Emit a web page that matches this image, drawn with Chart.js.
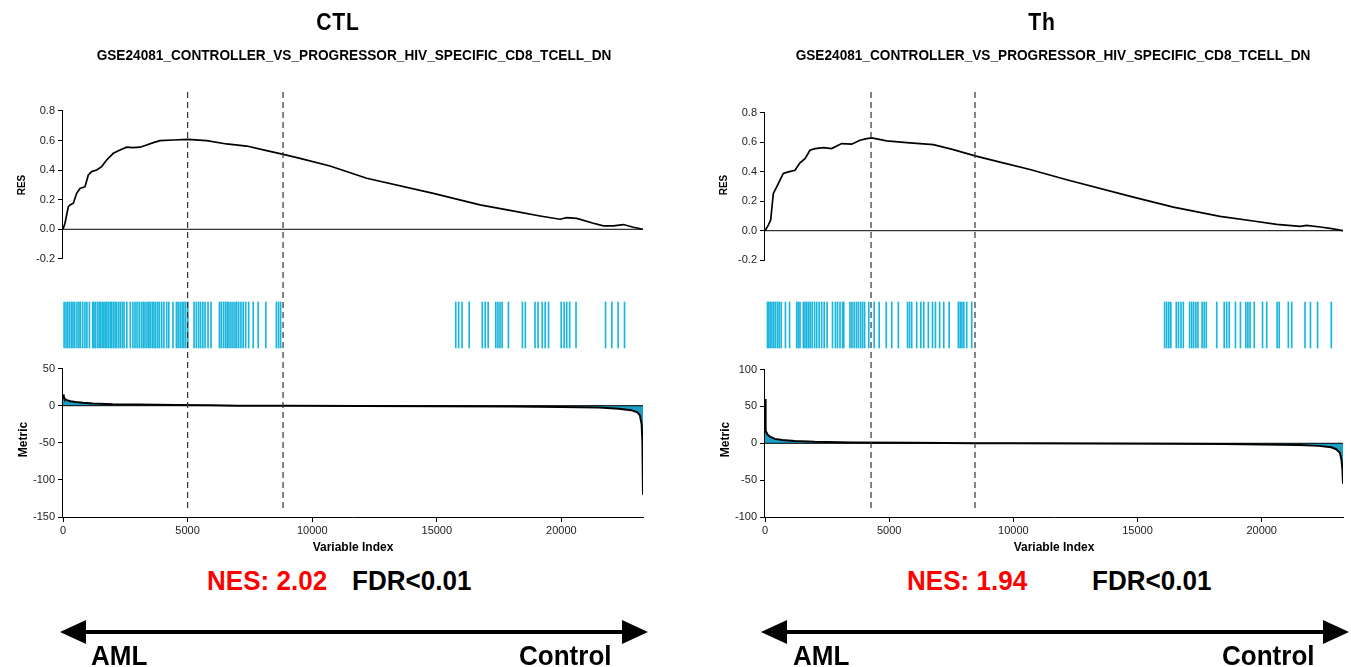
<html>
  <head>
    <script src="https://cdn.jsdelivr.net/npm/chart.js@4/dist/chart.umd.min.js"></script>
    <style>
      html,
      body {
        margin: 0;
        width: 1351px;
        height: 667px;
        background: #fff;
        overflow: hidden;
        font-family: "Liberation Sans", Arial, sans-serif;
      }
      canvas {
        position: absolute;
        top: 0;
      }
      .txt {
        position: absolute;
        white-space: nowrap;
        font-family: "Liberation Sans", Arial, sans-serif;
        font-weight: bold;
        color: #000;
      }
      .title {
        font-size: 24px;
        line-height: 28px;
        text-align: center;
        width: 200px;
        top: 8px;
        letter-spacing: 1px;
        transform: scaleX(0.88);
      }
      .sub {
        font-size: 15.5px;
        line-height: 18px;
        text-align: center;
        width: 640px;
        top: 46px;
        transform: scaleX(0.88);
      }
      .big {
        font-size: 28px;
        line-height: 30px;
        transform-origin: left center;
        transform: scaleX(0.93);
      }
      .nes {
        color: #ff0000;
        top: 566px;
      }
      .fdr {
        top: 566px;
      }
      .end {
        top: 641px;
      }
      svg {
        position: absolute;
        left: 0;
        top: 0;
      }
    </style>
  </head>
  <body>
    <canvas id="ctlChart" width="680" height="560" style="left: 0px"></canvas>
    <canvas id="thChart" width="651" height="560" style="left: 700px"></canvas>

    <div class="txt title" style="left: 238px">CTL</div>
    <div class="txt sub" style="left: 34px">GSE24081_CONTROLLER_VS_PROGRESSOR_HIV_SPECIFIC_CD8_TCELL_DN</div>
    <div class="txt title" style="left: 942px">Th</div>
    <div class="txt sub" style="left: 733px">GSE24081_CONTROLLER_VS_PROGRESSOR_HIV_SPECIFIC_CD8_TCELL_DN</div>

    <div class="txt big nes" style="left: 207px">NES: 2.02</div>
    <div class="txt big fdr" style="left: 352px">FDR&lt;0.01</div>
    <div class="txt big nes" style="left: 907px">NES: 1.94</div>
    <div class="txt big fdr" style="left: 1092px">FDR&lt;0.01</div>

    <svg width="1351" height="667">
      <line x1="84" y1="632" x2="624" y2="632" stroke="#000" stroke-width="4" />
      <polygon points="60,632 86,620 86,644" fill="#000" />
      <polygon points="648,632 622,620 622,644" fill="#000" />
      <line x1="785" y1="632" x2="1325" y2="632" stroke="#000" stroke-width="4" />
      <polygon points="761,632 787,620 787,644" fill="#000" />
      <polygon points="1349,632 1323,620 1323,644" fill="#000" />
    </svg>
    <div class="txt big end" style="left: 91px">AML</div>
    <div class="txt big end" style="left: 519px">Control</div>
    <div class="txt big end" style="left: 793px">AML</div>
    <div class="txt big end" style="left: 1222px">Control</div>

    <script>
      // ranked list length and axis ticks
      const geneCount = 23274;
      const indexTicks = [0, 5000, 10000, 15000, 20000];
      const resTicks = [-0.2, 0, 0.2, 0.4, 0.6, 0.8];
      const ctlMetricTicks = [-150, -100, -50, 0, 50];
      const thMetricTicks = [-100, -50, 0, 50, 100];

      // CTL panel
      const ctlDashed = [5000, 8830];
      const ctlRes = [
        [0, 0], [80, 0.041], [214, 0.153], [281, 0.164], [415, 0.176], [548, 0.243],
        [682, 0.276], [883, 0.288], [1016, 0.367], [1150, 0.39], [1351, 0.401],
        [1551, 0.424], [1752, 0.469], [2019, 0.514], [2287, 0.536], [2554, 0.555],
        [2800, 0.552], [3090, 0.555], [3357, 0.57], [3625, 0.586], [3892, 0.6],
        [4427, 0.604], [5003, 0.608], [5765, 0.599], [6567, 0.577], [7370, 0.563],
        [8172, 0.532], [8842, 0.507], [9511, 0.48], [10714, 0.428], [12187, 0.345],
        [14861, 0.243], [16734, 0.165], [18207, 0.119], [19142, 0.09], [19945, 0.068],
        [20213, 0.079], [20614, 0.074], [21283, 0.041], [21684, 0.023], [22085, 0.023],
        [22486, 0.032], [22887, 0.014], [23274, 0]
      ];
      const ctlMetric = [
        [0, 15], [30, 12], [80, 9], [150, 7.5], [300, 6], [500, 5], [800, 4],
        [1200, 3], [2000, 2], [3000, 1.5], [4500, 1], [6000, 0.5], [7000, 0],
        [9000, -0.2], [12000, -0.4], [15000, -0.6], [18000, -1], [20000, -1.6],
        [21500, -2.5], [22300, -4], [22800, -6], [23050, -9], [23150, -13],
        [23220, -25], [23250, -50], [23274, -120]
      ];
      const ctlHits = [
        44, 120, 190, 260, 335, 400, 470, 560, 640, 700, 790, 880, 960, 1060,
        1196, 1240, 1300, 1380, 1450, 1500, 1570, 1640, 1700, 1760, 1830, 1900, 1950,
        2020, 2090, 2150, 2230, 2300, 2380, 2450, 2560, 2700, 2805, 2890, 2970, 3058,
        3146, 3220, 3290, 3370, 3440, 3500, 3580, 3650, 3720, 3800, 3870, 3960, 4050,
        4161, 4245, 4414, 4550, 4620, 4700, 4780, 4850, 4923, 5007, 5260, 5350, 5440,
        5520, 5610, 5700, 5820, 5939, 6277, 6350, 6440, 6520, 6590, 6660, 6740, 6820,
        6900, 6970, 7050, 7140, 7230, 7330, 7450, 7633, 7834, 8139, 8563, 8650, 8732,
        15760, 15876, 16013, 16300, 16825, 16942, 17061, 17367, 17452, 17536, 17621,
        17874, 18436, 18552, 18941, 19063, 19231, 19348, 19484, 19992, 20110, 20213,
        20330, 20586, 21770, 22023, 22276, 22532
      ];

      // Th panel
      const thDashed = [4270, 8456];
      const thRes = [
        [0, 0], [134, 0.038], [228, 0.072], [336, 0.253], [470, 0.298], [604, 0.343],
        [738, 0.389], [940, 0.4], [1208, 0.411], [1409, 0.461], [1611, 0.49],
        [1812, 0.547], [2013, 0.558], [2349, 0.565], [2684, 0.558], [3087, 0.592],
        [3490, 0.588], [3826, 0.615], [4094, 0.626], [4296, 0.631], [4900, 0.61],
        [5706, 0.599], [6777, 0.585], [7583, 0.551], [8457, 0.508], [9463, 0.466],
        [10672, 0.416], [12149, 0.346], [14832, 0.228], [16443, 0.16], [18323, 0.097],
        [19664, 0.066], [20606, 0.043], [21544, 0.029], [21813, 0.036], [22350, 0.025],
        [22753, 0.016], [23274, 0]
      ];
      const thMetric = [
        [0, 60], [10, 30], [40, 17], [100, 12], [200, 9], [400, 6], [700, 4.5],
        [1200, 3.2], [2000, 2], [3500, 1.2], [6000, 0.6], [8400, 0.2], [10000, 0],
        [13000, -0.2], [16000, -0.5], [18500, -1], [20000, -1.5], [21500, -2.3],
        [22300, -3.5], [22800, -5.5], [23000, -8], [23150, -13], [23210, -22],
        [23250, -35], [23274, -55]
      ];
      const thHits = [
        101, 150, 210, 280, 350, 420, 500, 571, 654, 822, 990, 1276, 1340, 1409, 1544,
        1610, 1680, 1750, 1820, 1900, 1997, 2081, 2180, 2280, 2383, 2500, 2718, 2835,
        2920, 3020, 3121, 3171, 3423, 3500, 3590, 3680, 3760, 3850, 3930, 4011, 4178,
        4397, 4598, 4883, 5102, 5370, 5738, 5820, 5907, 6108, 6275, 6393, 6578, 6746,
        6863, 7031, 7198, 7417, 7786, 7860, 7930, 8004, 8121, 8323,
        16092, 16175, 16260, 16342, 16561, 16650, 16750, 16845, 17097, 17180, 17260,
        17350, 17433, 17600, 17685, 17770, 18190, 18491, 18590, 18692, 18943, 19144,
        19362, 19445, 19530, 19700, 20034, 20202, 20620, 20705, 21073, 21208, 21746,
        21963, 22249, 22803
      ];

      const tickFont = { family: "'Liberation Sans', Arial, sans-serif", size: 11 };
      const hitBand = [0.171, 0.732];

      // y axis line only between first and last tick (like R axis)
      const axisSpan = {
        id: "axisSpan",
        afterDraw(chart) {
          const ctx = chart.ctx;
          ["yRes", "yMet"].forEach((id) => {
            const s = chart.scales[id];
            const t = s.ticks;
            ctx.save();
            ctx.strokeStyle = "#000";
            ctx.lineWidth = 1;
            ctx.beginPath();
            ctx.moveTo(s.right - 0.5, s.getPixelForValue(t[0].value));
            ctx.lineTo(s.right - 0.5, s.getPixelForValue(t[t.length - 1].value));
            ctx.stroke();
            ctx.restore();
          });
        },
      };

      const toXY = (arr) => arr.map(([x, y]) => ({ x: x, y: y }));

      function yAxis(stackWeight, min, max, ticks, title, titleSize, fmt) {
        return {
          type: "linear",
          position: "left",
          stack: "gsea",
          stackWeight: stackWeight,
          min: min,
          max: max,
          afterBuildTicks: (s) => {
            s.ticks = ticks.map((v) => ({ value: v }));
          },
          afterFit: (s) => {
            s.width = 55;
          },
          ticks: { font: tickFont, color: "#222", padding: 3, callback: fmt },
          grid: { drawOnChartArea: false, drawTicks: true, tickLength: 5, color: "#000" },
          border: { display: false },
          title: {
            display: true,
            text: title,
            color: "#000",
            font: { family: "'Liberation Sans', Arial, sans-serif", size: titleSize, weight: "bold" },
            padding: { top: 8, bottom: 0 },
          },
        };
      }

      function buildPanel(canvasId, p) {
        const dashedSets = p.dashed.map((v) => ({
          data: [{ x: v, y: 0.021 }, { x: v, y: 1 }],
          yAxisID: "yAll",
          borderColor: "#333",
          borderWidth: 1.2,
          borderDash: [6, 4],
          pointRadius: 0,
        }));
        return new Chart(document.getElementById(canvasId), {
          type: "line",
          data: {
            datasets: dashedSets.concat([
              {
                data: toXY(p.res),
                yAxisID: "yRes",
                borderColor: "#000",
                borderWidth: 1.7,
                pointRadius: 0,
              },
              {
                data: [{ x: 0, y: 0 }, { x: geneCount, y: 0 }],
                yAxisID: "yRes",
                borderColor: "#000",
                borderWidth: 1,
                pointRadius: 0,
              },
              {
                data: [{ x: 0, y: 0 }, { x: geneCount, y: 0 }],
                yAxisID: "yMet",
                borderColor: "#000",
                borderWidth: 1,
                pointRadius: 0,
              },
              {
                data: toXY(p.metric),
                yAxisID: "yMet",
                borderColor: "#000",
                borderWidth: 2,
                backgroundColor: "#1c9dc5",
                fill: "origin",
                pointRadius: 0,
              },
              {
                type: "bar",
                data: p.hits.map((x) => ({ x: x, y: hitBand })),
                yAxisID: "yHit",
                backgroundColor: "#19b5dd",
                barThickness: 1,
                grouped: false,
              },
            ]),
          },
          options: {
            responsive: false,
            animation: false,
            devicePixelRatio: 1,
            layout: { padding: { left: p.padLeft, right: p.padRight, top: 90, bottom: 5 } },
            elements: { line: { tension: 0 } },
            plugins: { legend: { display: false }, tooltip: { enabled: false } },
            scales: {
              x: {
                type: "linear",
                min: 0,
                max: geneCount,
                offset: false,
                afterBuildTicks: (s) => {
                  s.ticks = indexTicks.map((v) => ({ value: v }));
                },
                afterFit: (s) => {
                  s.height = 38;
                },
                ticks: { font: tickFont, color: "#222", padding: 2, maxRotation: 0, callback: (v) => String(v) },
                grid: { offset: false, drawOnChartArea: false, drawTicks: true, tickLength: 5, color: "#000" },
                border: { display: true, color: "#000" },
                title: {
                  display: true,
                  text: "Variable Index",
                  color: "#000",
                  font: { family: "'Liberation Sans', Arial, sans-serif", size: 12, weight: "bold" },
                  padding: 0,
                },
              },
              yMet: yAxis(155, p.metMin, p.metMax, p.metTicks, "Metric", 12, (v) => String(v)),
              yHit: {
                type: "linear",
                position: "left",
                stack: "gsea",
                stackWeight: 82,
                min: 0,
                max: 1,
                afterFit: (s) => {
                  s.width = 55;
                },
                ticks: { display: false },
                grid: { display: false },
                border: { display: false },
              },
              yRes: yAxis(190, p.resMin, p.resMax, resTicks, "RES", 10, (v) => v.toFixed(1)),
              yAll: { type: "linear", position: "right", display: false, min: 0, max: 1 },
            },
          },
          plugins: [axisSpan],
        });
      }

      buildPanel("ctlChart", {
        dashed: ctlDashed,
        res: ctlRes,
        metric: ctlMetric,
        hits: ctlHits,
        metTicks: ctlMetricTicks,
        resMin: -0.343,
        resMax: 0.942,
        metMin: -150,
        metMax: 58.9,
        padLeft: 8,
        padRight: 37,
      });

      buildPanel("thChart", {
        dashed: thDashed,
        res: thRes,
        metric: thMetric,
        hits: thHits,
        metTicks: thMetricTicks,
        resMin: -0.335,
        resMax: 0.956,
        metMin: -100,
        metMax: 110.3,
        padLeft: 10,
        padRight: 8,
      });
    </script>
  </body>
</html>
